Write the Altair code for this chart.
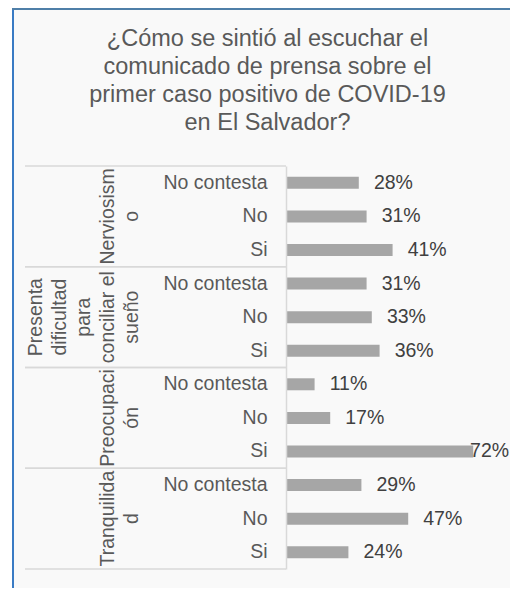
import altair as alt
import pandas as pd

title_lines = ["¿Cómo se sintió al escuchar el", "comunicado de prensa sobre el",
               "primer caso positivo de COVID-19", "en El Salvador?"]
groups = ["Nerviosismo", "Presenta dificultad para conciliar el sueño", "Preocupación", "Tranquilidad"]
group_labels = ["Nerviosism\no", "Presenta\ndificultad\npara\nconciliar el\nsueño", "Preocupaci\nón", "Tranquilida\nd"]
answers = ["No contesta", "No", "Si"]
values = [
    [0.28, 0.31, 0.41],
    [0.31, 0.33, 0.36],
    [0.11, 0.17, 0.72],
    [0.29, 0.47, 0.24],
]

rows = []
for g, vals in zip(groups, values):
    for a, v in zip(answers, vals):
        rows.append({"key": f"{g}|{a}", "group": g, "answer": a, "v": v})
df = pd.DataFrame(rows)
keys = list(df["key"])

grp = pd.DataFrame({
    "label": group_labels,
    "nlines": [len(s.split("\n")) for s in group_labels],
    "first": [f"{g}|{answers[0]}" for g in groups],
    "mid": [f"{g}|{answers[1]}" for g in groups],
    "last": [f"{g}|{answers[2]}" for g in groups],
})

FONT = "Liberation Sans"
W, H = 208, 403
PL, PT, PR, PB = 278, 158, 16, 19
GLH = 24  # line height of group labels

yscale = alt.Scale(domain=keys, paddingInner=0, paddingOuter=0)
xscale = alt.Scale(domain=[0, 0.8], nice=False, zero=True)
yaxis = alt.Axis(labelExpr="split(datum.value,'|')[1]", ticks=False, grid=False,
                 domainColor="#d9d9d9", domainWidth=1.5, title=None, zindex=1,
                 labelFontSize=19.5, labelColor="#595959", labelFont=FONT,
                 labelPadding=19, labelLimit=300)

one = alt.Data(values=[{"a": 1}])

bg = alt.Chart(one).mark_rect(color="#f9f9f9").encode(
    x=alt.value(-274), x2=alt.value(W + PR), y=alt.value(-PT), y2=alt.value(H + PB)
)
left_line = alt.Chart(one).mark_rule(color="#3a7bc4", strokeWidth=2).encode(
    x=alt.value(-273), y=alt.value(-PT), y2=alt.value(H + PB)
)
top_line = alt.Chart(one).mark_rule(color="#4f7fa8", strokeWidth=2).encode(
    x=alt.value(-274), x2=alt.value(W + PR), y=alt.value(-PT + 1)
)

title = alt.Chart(alt.Data(values=[{"t": "\n".join(title_lines)}])).mark_text(
    align="center", baseline="top", lineBreak="\n", fontSize=23.5, lineHeight=28,
    font=FONT, color="#595959",
).encode(x=alt.value(-18.5), y=alt.value(-139), text="t:N")

bars = alt.Chart(df).mark_bar(height=12, color="#a6a6a6").encode(
    x=alt.X("v:Q", scale=xscale, axis=None),
    y=alt.Y("key:N", scale=yscale, axis=yaxis),
)

sep_top = alt.Chart(grp).mark_rule(color="#d9d9d9", strokeWidth=1.5).encode(
    y=alt.Y("first:N", scale=yscale, axis=yaxis, bandPosition=0),
    x=alt.value(-261), x2=alt.value(0),
)
sep_bot = alt.Chart(grp).mark_rule(color="#d9d9d9", strokeWidth=1.5).encode(
    y=alt.Y("last:N", scale=yscale, axis=yaxis, bandPosition=1),
    x=alt.value(-261), x2=alt.value(0),
)

labels = alt.Chart(df).transform_calculate(
    lx="min(datum.v + 0.058, 0.708)",
    txt="format(datum.v, '.0%')",
).mark_text(align="left", baseline="middle", fontSize=19.5, font=FONT, color="#404040").encode(
    x=alt.X("lx:Q", scale=xscale, axis=None),
    y=alt.Y("key:N", scale=yscale, axis=yaxis),
    text="txt:N",
)

# group labels: the last line of each label sits next to the inner labels
glayers = []
for n in sorted(set(grp["nlines"])):
    glayers.append(
        alt.Chart(grp).transform_filter(f"datum.nlines == {n}").mark_text(
            angle=270, align="center", baseline="bottom", lineBreak="\n",
            fontSize=19.5, lineHeight=GLH, font=FONT, color="#595959",
        ).encode(
            y=alt.Y("mid:N", scale=yscale, axis=yaxis),
            x=alt.value(-144 - (n - 1) * GLH),
            text="label:N",
        )
    )

chart = alt.layer(bg, left_line, top_line, title, bars, sep_top, sep_bot, labels, *glayers).properties(
    width=W, height=H,
    autosize=alt.AutoSizeParams(type="none"),
    padding={"left": PL, "top": PT, "right": PR, "bottom": PB},
).configure_view(stroke=None).configure(background="white")

chart.save("out.html", embed_options={"renderer": "svg", "actions": False})
